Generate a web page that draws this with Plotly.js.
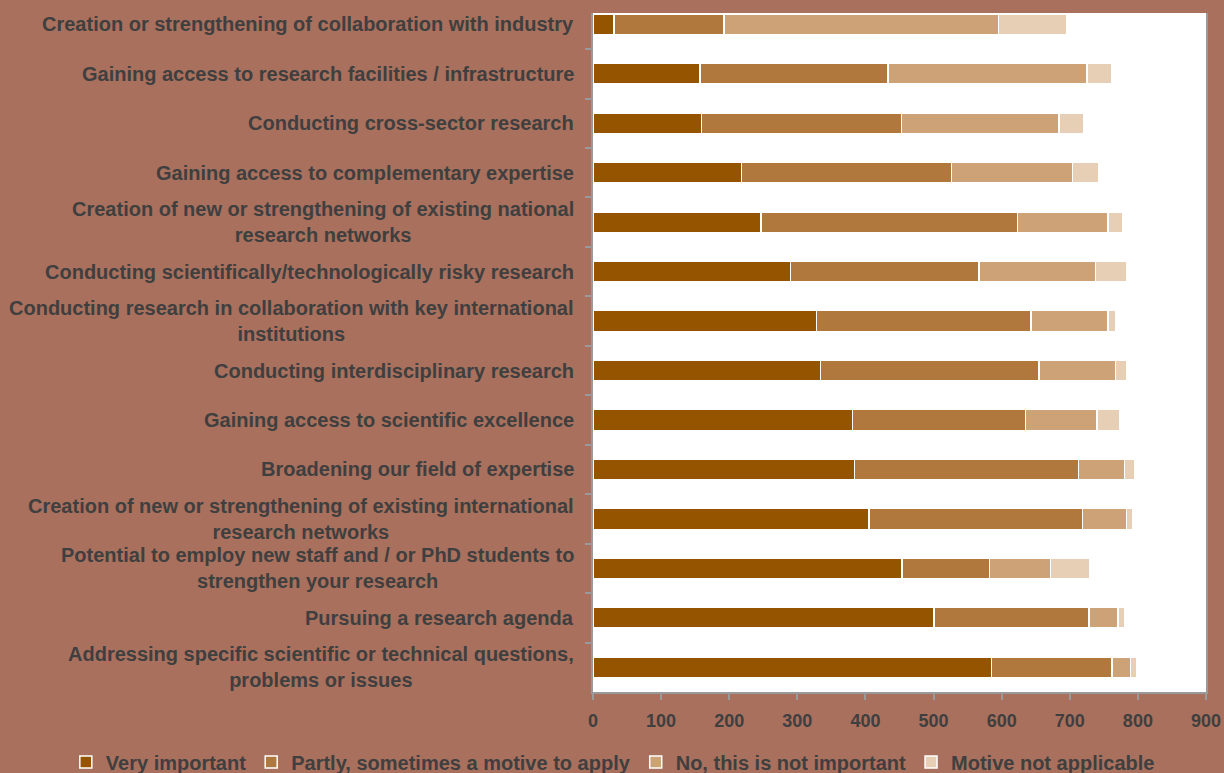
<!DOCTYPE html>
<html>
<head>
<meta charset="utf-8">
<script src="https://cdn.plot.ly/plotly-3.0.1.min.js"></script>
<style>
html,body{margin:0;padding:0;background:#A9705D;}
#chart{width:1224px;height:773px;}
</style>
</head>
<body>
<div id="chart"></div>
<script>
const categories = [
  "Creation or strengthening of collaboration with industry",
  "Gaining access to research facilities / infrastructure",
  "Conducting cross-sector research",
  "Gaining access to complementary expertise",
  "Creation of new or strengthening of existing national<br>research networks",
  "Conducting scientifically/technologically risky research",
  "Conducting research in collaboration with key international<br>institutions",
  "Conducting interdisciplinary research",
  "Gaining access to scientific excellence",
  "Broadening our field of expertise",
  "Creation of new or strengthening of existing international<br>research networks",
  "Potential to employ new staff and / or PhD students to<br>strengthen your research",
  "Pursuing a research agenda",
  "Addressing specific scientific or technical questions,<br>problems or issues"
];
const veryImportant = [31, 157, 159, 218, 247, 290, 328, 334, 381, 384, 405, 454, 501, 585];
const partly        = [161, 276, 294, 308, 376, 277, 315, 321, 254, 329, 314, 128, 227, 177];
const notImportant  = [403, 292, 231, 178, 133, 171, 113, 112, 105, 67, 64, 90, 43, 27];
const notApplicable = [100, 36, 37, 39, 22, 45, 12, 16, 33, 15, 10, 57, 9, 10];
const seriesNames = ["Very important", "Partly, sometimes a motive to apply", "No, this is not important", "Motive not applicable"];
const seriesColors = ["#955400", "#B0783C", "#CDA276", "#E7CFB6"];
const xTicks = [0, 100, 200, 300, 400, 500, 600, 700, 800, 900];

const seriesValues = [veryImportant, partly, notImportant, notApplicable];
const ids = categories.map((c, i) => "c" + i);

const traces = seriesValues.map((vals, k) => ({
  type: "bar",
  orientation: "h",
  name: seriesNames[k],
  x: vals,
  y: ids,
  marker: {color: seriesColors[k], line: {color: "#ffffff", width: 1.5}},
  hoverinfo: "x+name"
}));

const textColor = "#3f3f3f";
const fontFam = "Liberation Sans, Arial, sans-serif";
const annotations = categories.map((c, i) => ({
  xref: "paper", yref: "y",
  x: 0, y: ids[i],
  xanchor: "right", yanchor: "middle",
  xshift: -17,
  text: c, align: "center",
  showarrow: false,
  font: {family: fontFam, size: 20, color: textColor, weight: "bold"}
}));

const layout = {
  width: 1224, height: 773,
  paper_bgcolor: "#A9705D",
  plot_bgcolor: "#ffffff",
  barmode: "stack",
  bargap: 0.58,
  margin: {l: 593, r: 18, t: 13, b: 81, autoexpand: false},
  font: {family: fontFam, size: 18, color: textColor, weight: "bold"},
  xaxis: {
    range: [0, 900],
    tickvals: xTicks,
    ticktext: xTicks.map(String),
    showgrid: false, zeroline: false,
    showline: true, linecolor: "#9a9a9a", linewidth: 2,
    ticks: "outside", ticklen: 6, tickcolor: "#9a9a9a", tickwidth: 2,
    ticklabelstandoff: 5,
    tickfont: {size: 18, color: textColor, weight: "bold"},
    fixedrange: true
  },
  yaxis: {
    type: "category",
    categoryorder: "array", categoryarray: ids,
    range: [13.5, -0.23],
    showticklabels: false,
    showgrid: false, zeroline: false,
    showline: true, mirror: true, linecolor: "#9a9a9a", linewidth: 2,
    ticks: "outside", tickson: "boundaries", ticklen: 6, tickcolor: "#9a9a9a", tickwidth: 2,
    fixedrange: true
  },
  showlegend: true,
  legend: {
    orientation: "h",
    xref: "paper", yref: "paper",
    x: -0.86, xanchor: "left",
    y: -0.103, yanchor: "middle",
    traceorder: "normal",
    font: {family: fontFam, size: 20, color: textColor, weight: "bold"},
    bgcolor: "rgba(0,0,0,0)",
    itemwidth: 30
  },
  annotations: annotations
};

Plotly.newPlot("chart", traces, layout, {displayModeBar: false, staticPlot: true});
</script>
</body>
</html>
